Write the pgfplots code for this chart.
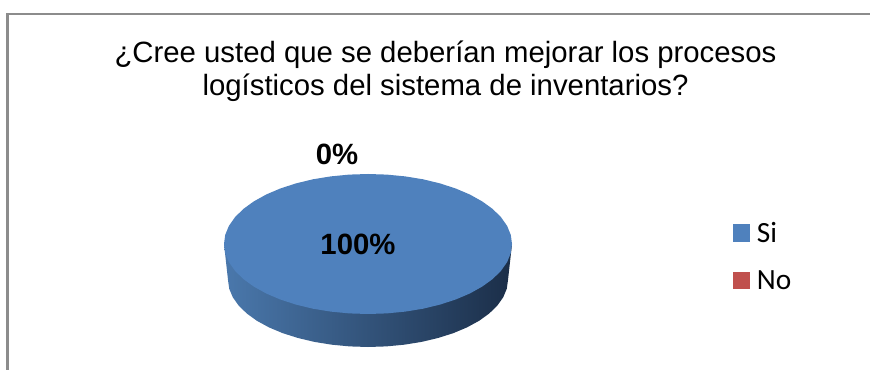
\documentclass[border=0pt]{standalone}
\usepackage{fontspec}
\setmainfont{Liberation Sans}
\newfontfamily\legendfont{Carlito}
\usepackage{pgfplots}
\usepackage{pgfplotstable}
\pgfplotsset{compat=1.18}

\definecolor{siblue}{HTML}{4F81BD}
\definecolor{nored}{HTML}{C0504D}
\definecolor{wallleft}{HTML}{4A78AC}
\definecolor{wallmid}{HTML}{2F5179}
\definecolor{wallright}{HTML}{1B2E48}
\definecolor{framegray}{HTML}{8C8C8C}

% Share of answers per category, with the place of each percentage label
\pgfplotstableread{
x   y   pct
358 244 100
337 154 0
}\sharelabels

% Top face of the disc
\pgfplotstableread{
x y
512.0 244.0
510.8 253.1
507.1 262.1
501.0 270.8
492.7 279.0
482.2 286.6
469.8 293.5
455.7 299.5
440.0 304.6
423.1 308.7
405.3 311.6
386.8 313.4
368.0 314.0
349.2 313.4
330.7 311.6
312.9 308.7
296.0 304.6
280.3 299.5
266.2 293.5
253.8 286.6
243.3 279.0
235.0 270.8
228.9 262.1
225.2 253.1
224.0 244.0
225.2 234.9
228.9 225.9
235.0 217.2
243.3 209.0
253.8 201.4
266.2 194.5
280.3 188.5
296.0 183.4
312.9 179.3
330.7 176.4
349.2 174.6
368.0 174.0
386.8 174.6
405.3 176.4
423.1 179.3
440.0 183.4
455.7 188.5
469.8 194.5
482.2 201.4
492.7 209.0
501.0 217.2
507.1 225.9
510.8 234.9
512.0 244.0
}\topface

% Outer wall of the disc, hidden above by the top face
\pgfplotstableread{
x y
512.0 244.0
508.0 280.0
506.8 288.7
503.2 297.3
497.3 305.6
489.2 313.5
479.1 320.8
467.0 327.4
453.2 333.2
438.0 338.0
421.6 341.9
404.2 344.7
386.3 346.4
368.0 347.0
349.7 346.4
331.8 344.7
314.4 341.9
298.0 338.0
282.8 333.2
269.0 327.4
256.9 320.8
246.8 313.5
238.7 305.6
232.8 297.3
229.2 288.7
228.0 280.0
224.0 244.0
}\wall

\begin{document}
\begin{tikzpicture}
\path[use as bounding box] (0,0) rectangle (652.5pt,277.5pt);
\begin{axis}[
  at={(0,0)}, anchor=south west,
  scale only axis,
  width=652.5pt, height=277.5pt,
  xmin=0, xmax=870, ymin=0, ymax=370,
  y dir=reverse,
  hide axis,
  clip=true,
  /pgf/number format/assume math mode=true,
  legend cell align=left,
  legend style={
    at={(axis cs:733,219)}, anchor=north west,
    draw=none, fill=none, inner xsep=0pt, inner ysep=0pt,
    font=\legendfont\fontsize{22}{24}\selectfont,
    row sep=15.6pt,
    /tikz/every odd column/.append style={column sep=3pt},
  },
  legend image code/.code={
    \fill[#1] (0pt,-6.4pt) rectangle (12.75pt,6.4pt);
  },
]
  % chart border
  \draw[framegray, line width=1.6pt] (axis cs:7.5,370) -- (axis cs:7.5,14) -- (axis cs:870,14);

  \addplot[forget plot, draw=none, left color=wallleft, middle color=wallmid, right color=wallright]
    table {\wall};
  % the empty "No" slice lies under the full "Si" slice
  \addplot[forget plot, fill=nored, draw=none] coordinates {(368,244) (368,174) (368,244)};
  \addplot[forget plot, fill=siblue, draw=none] table {\topface};

  \addlegendimage{fill=siblue, draw=none}
  \addlegendentry{Si}
  \addlegendimage{fill=nored, draw=none}
  \addlegendentry{No}

  \addplot[forget plot, draw=none, mark=none,
    point meta=explicit,
    nodes near coords={\pgfmathprintnumber{\pgfplotspointmeta}\%},
    nodes near coords align={center},
    every node near coord/.style={anchor=center, inner sep=0pt, text=black,
      font=\bfseries\fontsize{22}{26}\selectfont},
  ] table[x=x, y=y, meta=pct] {\sharelabels};

  \node[align=center, font=\fontsize{22}{25}\selectfont, inner sep=0pt]
    at (axis cs:445.5,71.5)
    {¿Cree usted que se deberían mejorar los procesos\\logísticos del sistema de inventarios?};
\end{axis}
\end{tikzpicture}
\end{document}
